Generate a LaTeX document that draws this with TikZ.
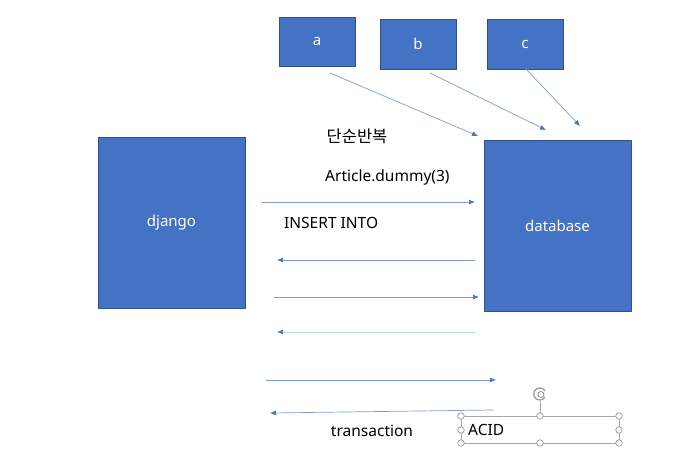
\documentclass[tikz,border=0pt]{standalone}
\usepackage{fontspec}
\setmainfont{Noto Sans}
\newfontfamily\krfont{Noto Sans CJK KR}
\usetikzlibrary{arrows.meta}
\definecolor{boxblue}{HTML}{4472C4}
\definecolor{boxedge}{HTML}{2F528F}
\definecolor{flowline}{HTML}{7F9BD0}
\tikzset{
  block/.style={draw=boxedge, fill=boxblue, text=white, line width=0.8pt,
    inner sep=0pt, font=\fontsize{15}{18}\selectfont},
  flow/.style={draw=flowline, line width=0.7pt, -{Latex[length=6pt,width=5pt,color=boxblue]}},
  label/.style={font=\fontsize{15.5}{18}\selectfont, inner sep=0pt},
  handle/.style={circle, draw=gray!80, fill=white, line width=0.7pt,
    minimum size=6.5pt, inner sep=0pt}
}
\begin{document}
\begin{tikzpicture}[x=1pt,y=-1pt]
  \useasboundingbox (0,0) rectangle (694,458);

  % the three clients
  \node[block, minimum width=76pt, minimum height=49pt] (a) at (317,41.5) {a};
  \node[block, minimum width=76pt, minimum height=50pt] (b) at (418,44) {b};
  \node[block, minimum width=76pt, minimum height=50pt] (c) at (525,44) {c};

  % server and database
  \node[block, minimum width=147pt, minimum height=171pt] (django) at (171.5,222.5) {django};
  \node[block, minimum width=147pt, minimum height=171pt] (database) at (557.5,225.5) {database};

  % arrow ends
  \coordinate (aout) at (330,73);
  \coordinate (ain) at (478,136);
  \coordinate (bout) at (430,73);
  \coordinate (bin) at (546,130);
  \coordinate (cout) at (526,69);
  \coordinate (cin) at (580,126);
  \draw[flow] (aout) -- (ain);
  \draw[flow] (bout) -- (bin);
  \draw[flow] (cout) -- (cin);

  \coordinate (q1) at (262,202);  \coordinate (r1) at (475,202);
  \coordinate (q2) at (277,260);  \coordinate (r2) at (475,260);
  \coordinate (q3) at (274,297);  \coordinate (r3) at (479,297);
  \coordinate (q4) at (277,332);  \coordinate (r4) at (475,332);
  \coordinate (q5) at (266,380);  \coordinate (r5) at (496,380);
  \coordinate (q6) at (270,413);  \coordinate (r6) at (493,410);
  \draw[flow] (q1) -- (r1);
  \draw[flow] (r2) -- (q2);
  \draw[flow] (q3) -- (r3);
  \draw[flow, draw=flowline!50] (r4) -- (q4);
  \draw[flow] (q5) -- (r5);
  \draw[flow] (r6) -- (q6);

  % labels
  \node[label, font=\krfont\fontsize{16.5}{19}\selectfont] (repeat) at (357,136) {단순반복};
  \node[label, anchor=west] (dummy) at (325,177) {Article.dummy(3)};
  \node[label, anchor=west] (insert) at (284,223) {INSERT INTO};
  \node[label] (trans) at (372,431) {transaction};

  % selected text box
  \draw[gray!70, line width=0.7pt] (461,416) rectangle (619,443);
  \draw[gray!70, line width=0.7pt] (540,416) -- (540,401);
  \node[label, anchor=west] (acid) at (468,430) {ACID};
  \foreach \hx/\hy in {461/416, 540/416, 619/416, 461/430, 619/430, 461/443, 540/443, 619/443}
    \node[handle] at (\hx,\hy) {};
  \draw[gray!80, line width=1.3pt] (545,391) arc (30:330:6pt);
  \draw[gray!80, line width=0.9pt] (541,394.5) circle (3pt);
\end{tikzpicture}
\end{document}
